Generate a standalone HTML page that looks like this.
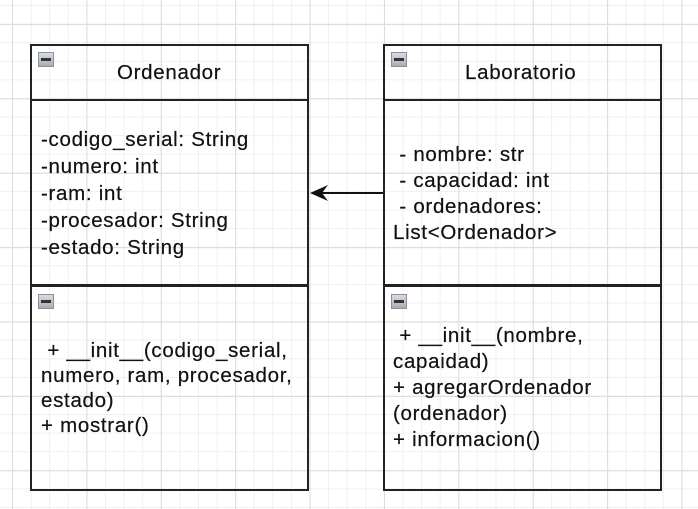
<!DOCTYPE html>
<html><head><style>
html,body{margin:0;padding:0}
body{width:698px;height:509px;position:relative;overflow:hidden;background:#fff;
background-image:
linear-gradient(to right,#dcdcdc 1px,transparent 1px),
linear-gradient(to bottom,#dcdcdc 1px,transparent 1px),
linear-gradient(to right,#efefef 1px,transparent 1px),
linear-gradient(to bottom,#efefef 1px,transparent 1px);
background-size:74.4px 74.4px,74.4px 74.4px,18.6px 18.6px,18.6px 18.6px;
background-position:12px 24px,12px 24px,12px 5px,12px 5px;
font-family:"Liberation Sans",Arial,sans-serif;color:#111}
.box{position:absolute;border:2px solid #222;box-sizing:border-box;background:transparent}
.hline{position:absolute;height:2px;background:#222}
.ic{position:absolute;width:16px;height:15px;background:linear-gradient(#d8dbe0,#a9adb5);border:1px solid #8a8f98;box-sizing:border-box}
.ic:after{content:"";position:absolute;left:2px;right:2px;top:5px;height:3px;background:#333}
.t{position:absolute;font-size:20.5px;letter-spacing:0.7px;line-height:27px;white-space:nowrap;-webkit-text-stroke:0.2px #111}
</style></head><body>
<div class="box" style="left:30px;top:44px;width:279px;height:447px"></div>
<div class="hline" style="left:30px;top:99px;width:279px"></div>
<div class="hline" style="left:30px;top:284px;width:279px;height:3px"></div>
<div class="ic" style="left:38px;top:52px"></div>
<div class="ic" style="left:38px;top:294px"></div>
<div class="t" style="left:117px;top:59px">Ordenador</div>
<div class="t" style="left:41px;top:126px">-codigo_serial: String<br>-numero: int<br>-ram: int<br>-procesador: String<br>-estado: String</div>
<div class="t" style="left:41px;top:338px;line-height:25px">&nbsp;+ __init__(codigo_serial,<br>numero, ram, procesador,<br>estado)<br>+ mostrar()</div>

<div class="box" style="left:383px;top:44px;width:279px;height:447px"></div>
<div class="hline" style="left:383px;top:99px;width:279px"></div>
<div class="hline" style="left:383px;top:284px;width:279px;height:3px"></div>
<div class="ic" style="left:391px;top:52px"></div>
<div class="ic" style="left:391px;top:294px"></div>
<div class="t" style="left:465px;top:59px">Laboratorio</div>
<div class="t" style="left:393px;top:142px;line-height:26px">&nbsp;- nombre: str<br>&nbsp;- capacidad: int<br>&nbsp;- ordenadores:<br>List&lt;Ordenador&gt;</div>
<div class="t" style="left:393px;top:323px;line-height:26px">&nbsp;+ __init__(nombre,<br>capaidad)<br>+ agregarOrdenador<br>(ordenador)<br>+ informacion()</div>

<svg style="position:absolute;left:0;top:0" width="698" height="509">
<line x1="383" y1="193" x2="314" y2="193" stroke="#111" stroke-width="2"/>
<path d="M310 193 L328 185 L322 193 L328 201 Z" fill="#111"/>
</svg>
</body></html>
